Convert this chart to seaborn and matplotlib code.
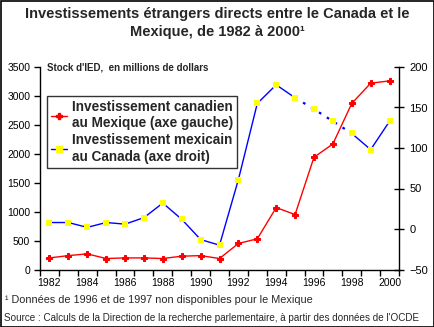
import matplotlib
matplotlib.use("Agg")
import matplotlib.pyplot as plt
import seaborn as sns
import pandas as pd
import numpy as np
from matplotlib.lines import Line2D
from matplotlib.patches import Rectangle

sns.set_theme(style="white")
plt.rcParams['font.family'] = ['Liberation Sans', 'DejaVu Sans']

years = list(range(1982, 2001))
canada_in_mexico = [200, 240, 270, 190, 200, 200, 190, 230, 240, 190,
                    450, 530, 1070, 950, 1940, 2170, 2870, 3220, 3260]
mexico_in_canada = [8, 8, 2, 8, 6, 14, 32, 12, -13, -20,
                    61, 155, 178, 162, 148, 133, 118, 98, 133]
estimated_years = [1995, 1996, 1997, 1998]
xtick_labels = [str(y) for y in range(1982, 2001, 2)]

title = "Investissements étrangers directs entre le Canada et le\nMexique, de 1982 à 2000¹"
ylabel_note = "Stock d'IED,  en millions de dollars"
legend_labels = ["Investissement canadien\nau Mexique (axe gauche)",
                 "Investissement mexicain\nau Canada (axe droit)"]
footnote = "¹ Données de 1996 et de 1997 non disponibles pour le Mexique"
source = "Source : Calculs de la Direction de la recherche parlementaire, à partir des données de l'OCDE"

df = pd.DataFrame({"year": years, "can": canada_in_mexico, "mex": mexico_in_canada})

W, H = 435, 327
fig = plt.figure(figsize=(W / 100, H / 100), dpi=100)
fig.patch.set_facecolor("white")
fig.patches.append(Rectangle((0.5 / W, 0.5 / H), 1 - 1.5 / W, 1 - 1.5 / H,
                             transform=fig.transFigure, fill=False,
                             edgecolor="black", linewidth=1.2))

x0, x1 = 40 / W, 399 / W
y0, y1 = 1 - 269.5 / H, 1 - 67 / H
ax = fig.add_axes([x0, y0, x1 - x0, y1 - y0])
ax2 = ax.twinx()

# Red series (left axis)
sns.lineplot(data=df, x="year", y="can", ax=ax, color="#ff0000", linewidth=1.0,
             marker="P", markersize=5, markeredgecolor="#ff0000",
             markerfacecolor="#ff0000", sort=False)

# Blue series (right axis) - solid and dotted parts
solid1 = df[df.year <= 1995]
dotted = df[df.year.isin(estimated_years)]
solid2 = df[df.year >= 1998]
sns.lineplot(data=solid1, x="year", y="mex", ax=ax2, color="#0000ff", linewidth=1.0, sort=False)
sns.lineplot(data=dotted, x="year", y="mex", ax=ax2, color="#0000ff", linewidth=1.6,
             linestyle=(0, (1.2, 3)), sort=False)
sns.lineplot(data=solid2, x="year", y="mex", ax=ax2, color="#0000ff", linewidth=1.0, sort=False)
sns.scatterplot(data=df, x="year", y="mex", ax=ax2, color="#ffff00", marker="s", s=25,
                edgecolor="#ffff00", linewidth=0, zorder=5)

ax.set_xlim(1981.5, 2000.5)
ax.set_ylim(0, 3500)
ax2.set_ylim(-50, 200)
ax.set_yticks(range(0, 3501, 500))
ax2.set_yticks(range(-50, 201, 50))
ax.set_xticks(range(1982, 2001, 2))
ax.set_xticklabels(xtick_labels)
ax.set_xticks(np.arange(1981.5, 2001, 1), minor=True)
ax.tick_params(axis="x", which="major", length=0, labelsize=7.5, pad=6, colors="black")
ax.tick_params(axis="x", which="minor", length=4, width=1, direction="out", bottom=True, color="black")
ax.tick_params(axis="y", length=4, width=1, direction="out", left=True, labelsize=7.5, colors="black", pad=3)
ax2.tick_params(axis="y", length=7, width=1, direction="inout", right=True, labelsize=8, colors="black", pad=4)

for a in (ax, ax2):
    a.set_xlabel("")
    a.set_ylabel("")
    a.spines["top"].set_visible(False)
    a.set_facecolor("none")
for s in ("left", "bottom"):
    ax.spines[s].set_color("black"); ax.spines[s].set_linewidth(1)
ax.spines["right"].set_visible(False)
ax2.spines["left"].set_visible(False)
ax2.spines["bottom"].set_visible(False)
ax2.spines["right"].set_color("black"); ax2.spines["right"].set_linewidth(1)
ax.grid(False); ax2.grid(False)

ax.text(0.02, 1.0, ylabel_note, transform=ax.transAxes, fontsize=7, fontweight="bold",
        ha="left", va="center")

handles = [Line2D([], [], color="#ff0000", marker="P", markersize=5, linewidth=1),
           Line2D([], [], color="#0000ff", marker="s", markersize=4, markerfacecolor="#ffff00",
                  markeredgecolor="#ffff00", linewidth=1)]
leg = ax.legend(handles, legend_labels, loc="upper left", bbox_to_anchor=(0.0195, 0.858),
                borderaxespad=0, frameon=True, fancybox=False, edgecolor="black",
                prop={"weight": "bold", "size": 9.8}, handlelength=1.2, handletextpad=0.3,
                labelspacing=0.25, borderpad=0.3)
leg.get_frame().set_linewidth(1)
ax2.get_legend() and ax2.get_legend().remove()

fig.text(0.5, 1 - 7 / H, title, ha="center", va="top", fontsize=10.5, fontweight="bold",
         linespacing=1.4)
fig.text(5 / W, 1 - 300 / H, footnote, ha="left", va="center", fontsize=7.8)
fig.text(4 / W, 1 - 318 / H, source, ha="left", va="center", fontsize=7.1)

fig.savefig("out.png", dpi=100)
